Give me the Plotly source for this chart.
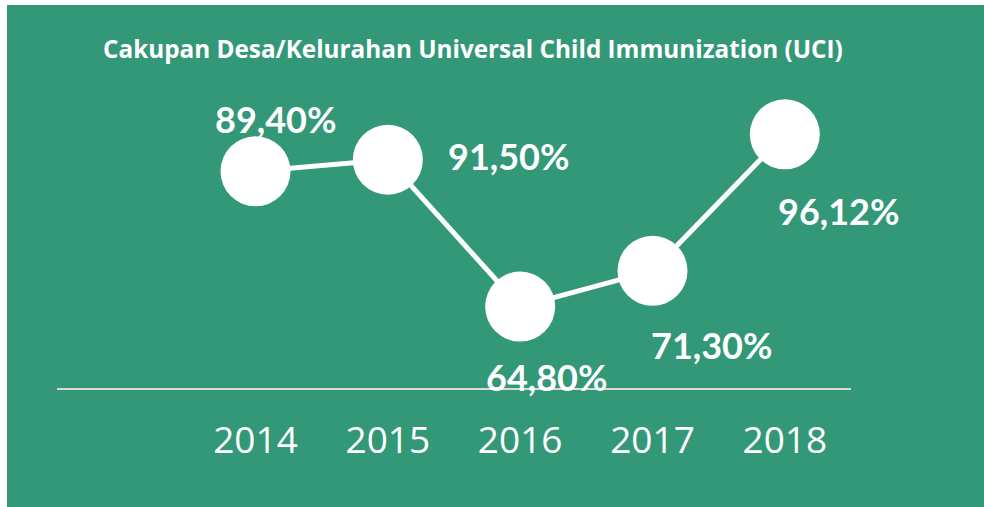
import plotly.graph_objects as go

years = ["2014", "2015", "2016", "2017", "2018"]
values = [89.40, 91.50, 64.80, 71.30, 96.12]
labels = ["89,40%", "91,50%", "64,80%", "71,30%", "96,12%"]
label_shift_x = [20, 121, 26, 59, 54]
label_shift_y = [52, 4, -70, -74, -77]
title_text = "Cakupan Desa/Kelurahan Universal Child Immunization (UCI)"

GREEN = "#339878"
idx = list(range(len(years)))

fig = go.Figure()
fig.add_trace(go.Scatter(
    x=idx, y=values, mode="lines+markers",
    line=dict(color="white", width=5),
    marker=dict(color="white", size=70, line=dict(width=0)),
    cliponaxis=False, hoverinfo="skip", showlegend=False,
))

W, H = 984, 507
L, R, T, B = 57, 133, 113, 119
pw, ph = W - L - R, H - T - B

for i in idx:
    fig.add_annotation(
        x=i, y=values[i], text=labels[i], showarrow=False,
        xshift=label_shift_x[i], yshift=label_shift_y[i],
        font=dict(family="Lato", size=36, color="white", weight="bold"),
    )

fig.add_annotation(
    xref="paper", yref="paper", x=(473 - L) / pw, y=(H - B - 48) / ph,
    text="<b>" + title_text + "</b>", showarrow=False,
    xanchor="center", yanchor="middle",
    font=dict(family="Open Sans", size=24.3, color="white"),
)

# green panel with a thin white strip on the left and top
fig.add_shape(
    type="rect", xref="paper", yref="paper", layer="below",
    x0=(7 - L) / pw, x1=(W + 5 - L) / pw,
    y0=(H - B - (H + 5)) / ph, y1=(H - B - 5) / ph,
    fillcolor=GREEN, line=dict(width=0),
)

fig.update_layout(
    width=W, height=H,
    margin=dict(l=L, r=R, t=T, b=B),
    paper_bgcolor="white", plot_bgcolor="rgba(0,0,0,0)",
    xaxis=dict(
        range=[-1.5, 4.5], tickvals=idx, ticktext=years,
        showgrid=False, zeroline=False,
        showline=True, linecolor="#d9d9d9", linewidth=1.5,
        ticks="", ticklabelstandoff=19,
        tickfont=dict(family="Open Sans", size=37, color="white"),
        fixedrange=True,
    ),
    yaxis=dict(
        range=[50, 100], visible=False, showgrid=False, zeroline=False,
        fixedrange=True,
    ),
)

fig.write_html(
    "out.html",
    config={"displayModeBar": False},
    post_script="document.body.style.margin='0';document.body.style.overflow='hidden';",
)
